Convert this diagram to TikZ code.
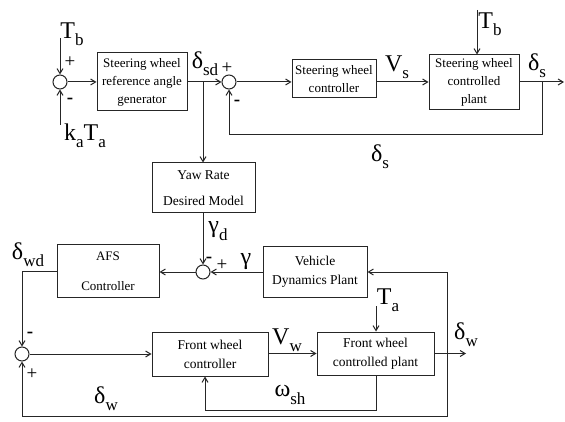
\documentclass[tikz,border=0pt]{standalone}
\usepackage{fontspec}
\setmainfont{Liberation Serif}
\usetikzlibrary{arrows.meta}
\newcommand{\lsub}[1]{\raisebox{-0.3em}{\fontsize{17}{17}\selectfont #1}}
\begin{document}
\begin{tikzpicture}[x=1pt,y=-1pt,line width=1pt,draw=black!85,
  >={Straight Barb[length=5pt,width=6pt]},
  blk/.style={draw,align=center,inner sep=0pt,font=\fontsize{13}{18}\selectfont},
  sumc/.style={draw,circle,minimum size=14pt,inner sep=0pt},
  lab/.style={font=\fontsize{24}{24}\selectfont,inner sep=0pt},
  sgn/.style={font=\fontsize{19}{19}\selectfont,inner sep=0pt}]
\useasboundingbox (0,0) rectangle (565,422);
% top loop
\node[sumc] (s1) at (60,82) {};
\coordinate (tb1) at (60,38);
\coordinate (ka) at (60,125);
\node[lab] at (72,34) {T\lsub{b}};
\node[sgn] at (70,62) {+};
\node[sgn] at (70,101) {\textbf{-}};
\node[lab] at (85,136) {k\lsub{a}T\lsub{a}};
\node[blk,minimum width=90pt,minimum height=58pt] (b1) at (142,82) {Steering wheel\\reference angle\\generator};
\node[sumc] (s2) at (229,82) {};
\node[lab] at (205,64) {δ\lsub{sd}};
\node[sgn] at (227,68) {+};
\node[sgn] at (237,103) {\textbf{-}};
\node[blk,minimum width=84pt,minimum height=38pt] (b2) at (334,79) {Steering wheel\\controller};
\node[lab] at (397,67) {V\lsub{s}};
\node[blk,minimum width=90pt,minimum height=55pt] (b3) at (474,82.5) {Steering wheel\\controlled\\plant};
\coordinate (tb2) at (477,10);
\node[lab] at (490,24) {T\lsub{b}};
\node[lab] at (537,66) {δ\lsub{s}};
\coordinate (out1) at (564,82);
\coordinate (br1) at (542,82);
\coordinate (fb1) at (542,135);
\node[lab] at (380,157) {δ\lsub{s}};
\coordinate (br2) at (203,82);
\draw[->] (tb1) -- (s1.north);
\draw[->] (ka) -- (s1.south);
\draw[->] (s1) -- (b1);
\draw[->] (b1) -- (s2);
\draw[->] (s2) -- (s2 -| b2.west);
\draw[->] (b2.east |- s2) -- (b3.west |- s2);
\draw[->] (tb2) -- (tb2 |- b3.north);
\draw[->] (b3.east |- s2) -- (out1);
\draw[->] (br1) -- (fb1) -| (s2.south);
% middle
\node[blk,minimum width=103pt,minimum height=50pt,font=\fontsize{13.5}{26}\selectfont] (yaw) at (203.5,188) {Yaw Rate\\Desired Model};
\draw[->] (br2) -- (br2 |- yaw.north);
\node[sumc] (s3) at (203,272) {};
\draw[->] (yaw.south -| s3) -- (s3);
\node[lab] at (218,231) {γ\lsub{d}};
\node[sgn] at (209,260) {\textbf{-}};
\node[sgn] at (222,265) {+};
\node[lab] at (246,262) {γ};
\node[blk,minimum width=104pt,minimum height=50pt,font=\fontsize{13.5}{19}\selectfont] (vdp) at (315,272) {Vehicle\\Dynamics Plant};
\node[blk,minimum width=102pt,minimum height=52pt,font=\fontsize{13}{30}\selectfont] (afs) at (108,271) {AFS\\Controller};
\draw[->] (vdp) -- (s3);
\draw[->] (s3) -- (s3 -| afs.east);
\node[lab] at (28,255) {δ\lsub{wd}};
% bottom loop
\node[sumc] (s4) at (22,354) {};
\draw[->] (afs.west) -| (s4.north);
\node[sgn] at (30,335) {\textbf{-}};
\node[sgn] at (32,374) {+};
\node[blk,minimum width=116pt,minimum height=44pt,font=\fontsize{13.5}{19}\selectfont] (fwc) at (210,354) {Front wheel\\controller};
\draw[->] (s4) -- (s4 -| fwc.west);
\node[blk,minimum width=117pt,minimum height=43pt,font=\fontsize{13.5}{19}\selectfont] (fwp) at (375.5,353.5) {Front wheel\\controlled plant};
\draw[->] (fwc.east |- fwp) -- (fwp.west);
\node[lab] at (287,340) {V\lsub{w}};
\coordinate (ta) at (376,306);
\node[lab] at (388,300) {T\lsub{a}};
\draw[->] (ta) -- (ta |- fwp.north);
\coordinate (out2) at (466,353.5);
\draw[->] (fwp.east) -- (out2);
\node[lab] at (466,335) {δ\lsub{w}};
\coordinate (br3) at (447,353.5);
\coordinate (bl) at (447,416);
\draw[->] (br3) |- (vdp.east);
\draw[->] (br3) -- (bl) -| (s4.south);
\node[lab] at (106,399) {δ\lsub{w}};
\coordinate (om) at (376,410);
\coordinate (om2) at (205,410);
\draw[->] (fwp.south -| om) -- (om) -- (om2) -- (om2 |- fwc.south);
\node[lab] at (290,395) {ω\lsub{sh}};
\end{tikzpicture}
\end{document}
